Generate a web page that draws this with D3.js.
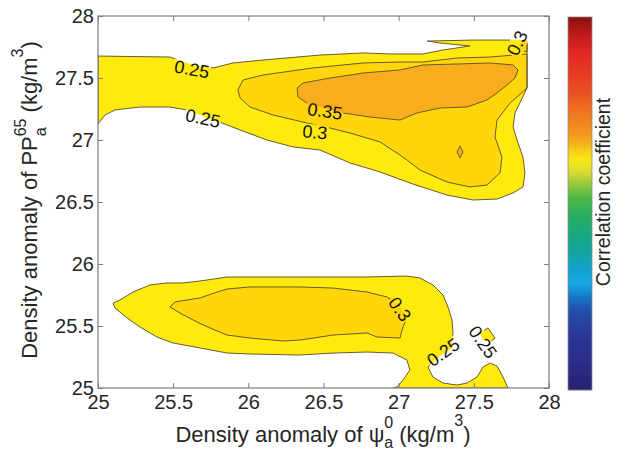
<!DOCTYPE html>
<html>
<head>
<meta charset="utf-8">
<script src="https://cdnjs.cloudflare.com/ajax/libs/d3/7.8.5/d3.min.js"></script>
<style>
  body { margin: 0; background: #ffffff; }
  text { font-family: "Liberation Sans", Arial, Helvetica, sans-serif; }
</style>
</head>
<body>
<svg id="chart" width="625" height="451"></svg>
<script>
// ---- axis ticks ----
const psiTicks = [25, 25.5, 26, 26.5, 27, 27.5, 28];
const psiTickLabels = ["25", "25.5", "26", "26.5", "27", "27.5", "28"];
const ppTicks = [25, 25.5, 26, 26.5, 27, 27.5, 28];
const ppTickLabels = ["25", "25.5", "26", "26.5", "27", "27.5", "28"];

// ---- contour levels of the correlation coefficient ----
const levels = [0.25, 0.3, 0.35];
const levelFills = ["#FFEA0D", "#FFD60A", "#F9AC1C"];

// ---- filled contour regions, vertices as [psi density, PP density] ----
// upper band, r >= 0.25
const upperOuter = [
  [25.000,27.677],[25.479,27.669],[25.632,27.605],[25.765,27.581],[25.898,27.621],
  [26.098,27.645],[26.477,27.685],[26.763,27.702],[26.942,27.694],[27.162,27.694],
  [27.295,27.726],[27.475,27.758],[27.275,27.782],[27.189,27.798],[27.495,27.806],
  [27.854,27.806],[27.854,27.419],[27.774,27.218],[27.761,27.105],[27.787,27.000],
  [27.827,26.863],[27.840,26.734],[27.827,26.621],[27.761,26.573],[27.654,26.524],
  [27.495,26.516],[27.322,26.556],[27.095,26.645],[26.876,26.742],[26.676,26.815],
  [26.477,26.919],[26.297,26.944],[26.124,27.000],[25.945,27.081],[25.825,27.137],
  [25.712,27.185],[25.592,27.242],[25.479,27.266],[25.279,27.266],[25.113,27.242],
  [25.047,27.202],[25.000,27.129]
];
// upper band, r >= 0.3
const upperMid = [
  [25.931,27.403],[25.965,27.484],[26.098,27.524],[26.430,27.581],[26.763,27.621],
  [27.009,27.629],[27.162,27.629],[27.388,27.661],[27.608,27.669],[27.854,27.694],
  [27.854,27.419],[27.741,27.298],[27.654,27.161],[27.641,27.024],[27.687,26.863],
  [27.674,26.734],[27.588,26.637],[27.475,26.621],[27.322,26.661],[27.142,26.758],
  [27.055,26.839],[26.989,26.895],[26.876,26.984],[26.789,27.016],[26.676,27.056],
  [26.543,27.097],[26.390,27.137],[26.164,27.202],[26.011,27.266],[25.945,27.339]
];
// upper band, r >= 0.35
const upperCore = [
  [26.324,27.419],[26.364,27.460],[26.543,27.500],[26.763,27.540],[27.009,27.565],
  [27.162,27.605],[27.388,27.613],[27.608,27.621],[27.761,27.605],[27.794,27.565],
  [27.774,27.500],[27.721,27.444],[27.654,27.379],[27.588,27.323],[27.455,27.266],
  [27.275,27.258],[27.122,27.218],[27.009,27.161],[26.809,27.185],[26.630,27.218],
  [26.390,27.298],[26.330,27.347]
];
const upperSpot = [[27.408,26.952],[27.428,26.903],[27.408,26.855],[27.388,26.903]];
const upperCorner = [[27.854,27.798],[27.801,27.774],[27.814,27.726],[27.854,27.710]];

// lower band, r >= 0.25
const lowerOuter = [
  [25.100,25.685],[25.146,25.710],[25.233,25.774],[25.346,25.831],[25.459,25.847],
  [25.565,25.847],[25.679,25.863],[25.858,25.895],[26.477,25.895],[26.789,25.895],
  [27.055,25.903],[27.142,25.887],[27.228,25.831],[27.295,25.750],[27.328,25.653],
  [27.355,25.548],[27.361,25.444],[27.355,25.323],[27.275,25.258],[27.195,25.169],
  [27.228,25.089],[27.295,25.040],[27.388,25.024],[27.455,25.040],[27.521,25.089],
  [27.561,25.169],[27.608,25.202],[27.654,25.177],[27.694,25.089],[27.727,25.000],
  [26.962,25.000],[26.989,25.008],[27.029,25.065],[27.075,25.145],[27.055,25.226],
  [26.962,25.282],[26.789,25.290],[26.563,25.282],[26.344,25.266],[26.011,25.274],
  [25.858,25.282],[25.679,25.323],[25.499,25.363],[25.392,25.411],[25.279,25.492],
  [25.193,25.565],[25.113,25.645]
];
// lower band, r >= 0.3
const lowerMid = [
  [25.479,25.653],[25.512,25.694],[25.592,25.710],[25.679,25.726],[25.792,25.774],
  [25.858,25.798],[26.011,25.815],[26.344,25.815],[26.563,25.806],[26.789,25.774],
  [26.922,25.734],[27.009,25.669],[27.055,25.573],[27.022,25.468],[27.009,25.403],
  [26.856,25.411],[26.789,25.444],[26.563,25.427],[26.344,25.387],[26.231,25.379],
  [26.011,25.403],[25.858,25.427],[25.745,25.484],[25.659,25.532],[25.545,25.605]
];
const lowerSpot = [[27.541,25.444],[27.594,25.484],[27.641,25.403],[27.608,25.371],[27.561,25.387]];

const regions = [
  { level: 0.25, pts: upperOuter },
  { level: 0.25, pts: lowerOuter },
  { level: 0.25, pts: lowerSpot },
  { level: 0.3,  pts: upperMid },
  { level: 0.3,  pts: lowerMid },
  { level: 0.3,  pts: upperCorner },
  { level: 0.35, pts: upperCore },
  { level: 0.35, pts: upperSpot }
];

// ---- inline contour labels: level, anchor [psi, PP], angle ----
const labelLevels = [0.25, 0.25, 0.35, 0.3, 0.3, 0.3, 0.25, 0.25];
const labelAnchors = [
  [25.625,27.573],[25.698,27.177],[26.510,27.234],[26.443,27.065],
  [27.787,27.782],[27.009,25.637],[27.295,25.290],[27.561,25.371]
];
const labelAngles = [10, 12, 8, 5, -65, 55, -35, 55];

// ---- colour bar stops (fraction from bottom, colour) ----
const cbStops = [0, 0.067, 0.147, 0.214, 0.249, 0.287, 0.322, 0.362, 0.416, 0.469,
                 0.515, 0.550, 0.584, 0.617, 0.638, 0.676, 0.737, 0.810, 0.898, 0.944, 1];
const cbColors = ["#2A2070","#2C2C88","#2C3898","#2450AC","#1878C4","#18A8E4","#14A2D0",
                  "#12A4A8","#18AA80","#28AE60","#50B848","#90C840","#D8DC30","#F8E818",
                  "#F8D018","#F5A020","#F07A20","#EA4A25","#E52A25","#C81E1E","#8B1010"];

// ================= drawing =================
const svg = d3.select("#chart");
const x = d3.scaleLinear().domain([25, 28]).range([98, 549]);
const y = d3.scaleLinear().domain([25, 28]).range([388, 16]);
const fillOf = d3.scaleOrdinal().domain(levels).range(levelFills);
const axisColor = "#7c7c7c";
const lineColor = "#6a5a30";

const defs = svg.append("defs");
defs.append("clipPath").attr("id", "plotClip")
  .append("rect").attr("x", x(25)).attr("y", y(28))
  .attr("width", x(28) - x(25)).attr("height", y(25) - y(28));
const mask = defs.append("mask").attr("id", "labelGap")
  .attr("maskUnits", "userSpaceOnUse")
  .attr("x", 0).attr("y", 0).attr("width", 625).attr("height", 451);
mask.append("rect").attr("x", 0).attr("y", 0).attr("width", 625).attr("height", 451).attr("fill", "#fff");

const outline = d3.line().x(d => x(d[0])).y(d => y(d[1])).curve(d3.curveLinearClosed);

const plot = svg.append("g").attr("clip-path", "url(#plotClip)");
plot.append("g").selectAll("path").data(regions).join("path")
  .attr("d", d => outline(d.pts))
  .attr("fill", d => fillOf(d.level))
  .attr("stroke", "none");
plot.append("g").attr("mask", "url(#labelGap)")
  .selectAll("path").data(regions).join("path")
  .attr("d", d => outline(d.pts))
  .attr("fill", "none")
  .attr("stroke", lineColor)
  .attr("stroke-width", 1)
  .attr("stroke-linejoin", "round");

// contour labels, with a gap cut in the lines beneath each one
const labelG = svg.append("g");
labelLevels.forEach((lv, i) => {
  const [px, py] = labelAnchors[i];
  const tr = `translate(${x(px)},${y(py)}) rotate(${labelAngles[i]})`;
  const t = labelG.append("text")
    .attr("transform", tr)
    .attr("text-anchor", "middle")
    .attr("dy", "0.36em")
    .attr("font-size", 18)
    .attr("fill", "#111")
    .text(String(lv));
  const b = t.node().getBBox();
  mask.append("rect")
    .attr("transform", tr)
    .attr("x", b.x - 1).attr("y", b.y + 2)
    .attr("width", b.width + 2).attr("height", b.height - 3)
    .attr("fill", "#000");
});

// axes
function styleAxis(g) {
  g.attr("font-family", null).attr("font-size", null);
  g.select(".domain").remove();
  g.selectAll(".tick line").attr("stroke", axisColor).attr("stroke-width", 1);
  g.selectAll(".tick text").attr("font-size", 20).attr("fill", "#262626");
}
svg.append("g").attr("transform", `translate(0,${y(25)})`)
  .call(d3.axisBottom(x).tickValues(psiTicks).tickFormat((d, i) => psiTickLabels[i])
    .tickSizeInner(-5).tickSizeOuter(0).tickPadding(7))
  .call(styleAxis);
svg.append("g").attr("transform", `translate(${x(25)},0)`)
  .call(d3.axisLeft(y).tickValues(ppTicks).tickFormat((d, i) => ppTickLabels[i])
    .tickSizeInner(-5).tickSizeOuter(0).tickPadding(4))
  .call(styleAxis);
svg.append("g").attr("transform", `translate(0,${y(28)})`)
  .call(d3.axisTop(x).tickValues(psiTicks).tickFormat("").tickSizeInner(-5).tickSizeOuter(0))
  .call(styleAxis);
svg.append("g").attr("transform", `translate(${x(28)},0)`)
  .call(d3.axisRight(y).tickValues(ppTicks).tickFormat("").tickSizeInner(-5).tickSizeOuter(0))
  .call(styleAxis);
svg.append("rect")
  .attr("x", x(25)).attr("y", y(28))
  .attr("width", x(28) - x(25)).attr("height", y(25) - y(28))
  .attr("fill", "none").attr("stroke", axisColor).attr("stroke-width", 1.2);

// axis titles
const xt = svg.append("text")
  .attr("x", 323).attr("y", 442)
  .attr("text-anchor", "middle").attr("font-size", 22).attr("fill", "#262626");
xt.append("tspan").text("Density anomaly of \u03C8");
xt.append("tspan").attr("dy", 6).attr("font-size", 16).text("a");
xt.append("tspan").attr("dx", -9).attr("dy", -20).attr("font-size", 16).text("0");
xt.append("tspan").attr("dy", 14).text(" (kg/m");
xt.append("tspan").attr("dy", -16).attr("font-size", 16).text("3");
xt.append("tspan").attr("dy", 16).text(")");

const yt = svg.append("text")
  .attr("transform", "translate(37,200) rotate(-90)")
  .attr("text-anchor", "middle").attr("font-size", 22).attr("fill", "#262626");
yt.append("tspan").text("Density anomaly of PP");
yt.append("tspan").attr("dy", 9).attr("font-size", 16).text("a");
yt.append("tspan").attr("dx", -9).attr("dy", -20).attr("font-size", 16).text("65");
yt.append("tspan").attr("dy", 11).text(" (kg/m");
yt.append("tspan").attr("dy", -14).attr("font-size", 16).text("3");
yt.append("tspan").attr("dy", 14).text(")");

// colour bar
const cbX = 568, cbW = 24;
const cbY = d3.scaleLinear().domain([0, 1]).range([390, 17]);
const cbColor = d3.scaleLinear().domain(cbStops).range(cbColors).interpolate(d3.interpolateRgb);
const cbRows = d3.range(0, 1, 1 / 373);
svg.append("g").selectAll("rect").data(cbRows).join("rect")
  .attr("x", cbX).attr("width", cbW)
  .attr("y", d => cbY(d + 1 / 373))
  .attr("height", 1.2)
  .attr("fill", d => cbColor(d + 0.5 / 373));
svg.append("rect")
  .attr("x", cbX).attr("y", cbY(1)).attr("width", cbW).attr("height", cbY(0) - cbY(1))
  .attr("fill", "none").attr("stroke", "#8a8a8a").attr("stroke-width", 0.8);
svg.append("text")
  .attr("transform", "translate(610,192) rotate(-90)")
  .attr("text-anchor", "middle").attr("font-size", 19.5).attr("fill", "#262626")
  .text("Correlation coefficient");
</script>
</body>
</html>
